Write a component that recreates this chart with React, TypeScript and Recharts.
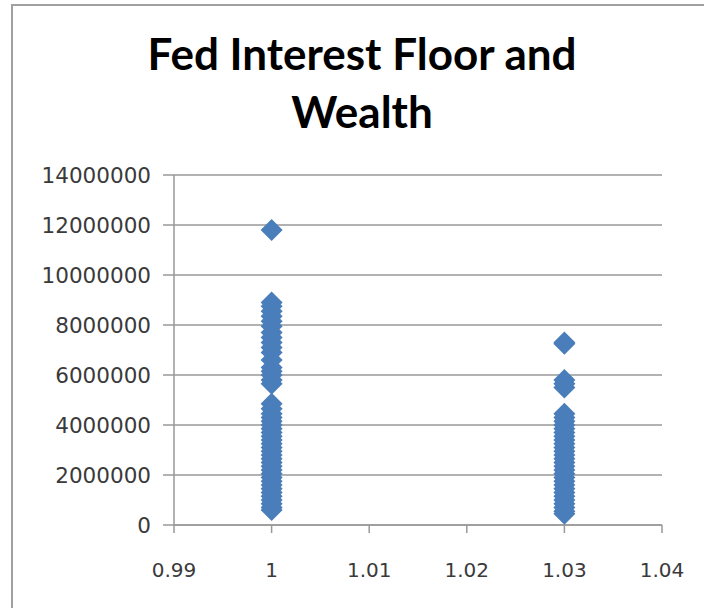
import {CartesianGrid, Scatter, ScatterChart, XAxis, YAxis} from 'recharts';

// Fed interest floor (x) and resulting wealth (y), in millions
const floorLow = 1;
const floorHigh = 1.03;
const wealthAtLow = [
    11.8, 8.9, 8.75, 8.55, 8.35, 8.15, 7.95, 7.7, 7.5, 7.3, 7.1, 6.9, 6.6, 6.3, 6.15, 6.0, 5.8, 5.65,
    4.85, 4.65, 4.45, 4.3, 4.15, 4.0, 3.85, 3.7, 3.55, 3.4, 3.25, 3.1, 2.95, 2.8, 2.65, 2.5, 2.35,
    2.2, 2.05, 1.9, 1.75, 1.6, 1.45, 1.3, 1.15, 1.0, 0.85, 0.7, 0.6,
];
const wealthAtHigh = [
    7.3, 7.25, 5.8, 5.65, 5.5, 4.45, 4.3, 4.15, 4.0, 3.85, 3.7, 3.55, 3.4, 3.25, 3.1, 2.95, 2.8,
    2.65, 2.5, 2.35, 2.2, 2.05, 1.9, 1.75, 1.6, 1.45, 1.3, 1.15, 1.0, 0.85, 0.7, 0.55, 0.45,
];
const xTicks = [0.99, 1, 1.01, 1.02, 1.03, 1.04];
const yTicks = [0, 2000000, 4000000, 6000000, 8000000, 10000000, 12000000, 14000000];
const titleLines = ['Fed Interest Floor and', 'Wealth'];

const data = [
    ...wealthAtLow.map((w) => ({floor: floorLow, wealth: w * 1000000})),
    ...wealthAtHigh.map((w) => ({floor: floorHigh, wealth: w * 1000000})),
];

const Diamond = (props: any) => {
    const {cx, cy} = props;
    const r = 11;
    return (
        <path
            d={`M${cx},${cy - r}L${cx + r},${cy}L${cx},${cy + r}L${cx - r},${cy}Z`}
            fill="#4a7ebb"
        />
    );
};

const axisColor = '#999999';

export default function App() {
    return (
        <div style={{position: 'absolute', left: 0, top: 0, width: 704, height: 608, overflow: 'hidden', background: '#fff'}}>
            <div
                style={{
                    position: 'absolute', left: 11, top: 4, width: 760, height: 700,
                    border: '2px solid #a0a0a0', boxSizing: 'border-box',
                }}
            />
            <div
                style={{
                    position: 'absolute', left: 362, top: 24, transform: 'translateX(-50%)',
                    fontFamily: 'Lato, sans-serif', fontWeight: 700, fontSize: 44, lineHeight: '58px',
                    textAlign: 'center', whiteSpace: 'nowrap', color: '#000',
                }}
            >
                {titleLines.map((t) => <div key={t}>{t}</div>)}
            </div>
            <div style={{position: 'absolute', left: 0, top: 0}}>
                <ScatterChart width={704} height={608} margin={{top: 175, right: 42, bottom: 23, left: 0}}>
                    <CartesianGrid vertical={false} stroke={axisColor} strokeWidth={1.5}/>
                    <XAxis
                        dataKey="floor"
                        type="number"
                        domain={[0.99, 1.04]}
                        ticks={xTicks}
                        interval={0}
                        height={60}
                        tickSize={8}
                        tickMargin={30}
                        axisLine={{stroke: axisColor, strokeWidth: 1.5}}
                        tickLine={{stroke: axisColor, strokeWidth: 1.5}}
                        tick={{fontFamily: '"DejaVu Sans", sans-serif', fontSize: 20, fill: '#3a3a3a'}}
                        tickFormatter={(v) => `${v}`}
                    />
                    <YAxis
                        dataKey="wealth"
                        type="number"
                        domain={[0, 14000000]}
                        ticks={yTicks}
                        interval={0}
                        width={174}
                        tickSize={11}
                        tickMargin={12}
                        axisLine={{stroke: axisColor, strokeWidth: 1.5}}
                        tickLine={{stroke: axisColor, strokeWidth: 1.5}}
                        tick={{fontFamily: '"DejaVu Sans", sans-serif', fontSize: 21.5, fill: '#3a3a3a'}}
                    />
                    <Scatter data={data} shape={<Diamond/>} isAnimationActive={false}/>
                </ScatterChart>
            </div>
        </div>
    );
}
